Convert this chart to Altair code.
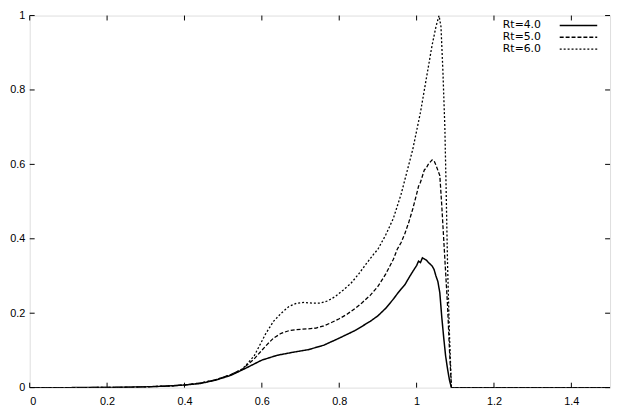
import altair as alt
import pandas as pd

# ---- data ----
series_names = ["Rt=4.0", "Rt=5.0", "Rt=6.0"]

x_rt4 = [0.0, 0.1, 0.2, 0.25, 0.3, 0.35, 0.4, 0.44, 0.48, 0.52, 0.56, 0.6, 0.64, 0.68, 0.72,
         0.76, 0.8, 0.84, 0.88, 0.9, 0.92, 0.94, 0.95, 0.96, 0.97, 0.98, 0.99, 1.0, 1.005,
         1.01, 1.015, 1.02, 1.025, 1.03, 1.04, 1.045, 1.05, 1.055, 1.06, 1.065, 1.07,
         1.075, 1.08, 1.085, 1.09, 1.5]
y_rt4 = [0.0, 0.0, 0.0005, 0.001, 0.002, 0.004, 0.007, 0.011, 0.020, 0.033, 0.053, 0.074,
         0.087, 0.095, 0.102, 0.114, 0.133, 0.153, 0.178, 0.193, 0.213, 0.238, 0.252, 0.265,
         0.277, 0.295, 0.312, 0.328, 0.340, 0.336, 0.349, 0.346, 0.343, 0.337, 0.327, 0.318,
         0.300, 0.285, 0.255, 0.190, 0.135, 0.085, 0.050, 0.020, 0.0, 0.0]

x_rt5 = [0.0, 0.1, 0.2, 0.25, 0.3, 0.35, 0.4, 0.44, 0.48, 0.52, 0.55, 0.58, 0.61, 0.63, 0.65,
         0.67, 0.69, 0.72, 0.74, 0.76, 0.78, 0.8, 0.82, 0.84, 0.86, 0.88, 0.9, 0.92, 0.94,
         0.95, 0.96, 0.97, 0.98, 0.99, 1.0, 1.005, 1.01, 1.02, 1.025, 1.03, 1.04, 1.045,
         1.05, 1.06, 1.065, 1.07, 1.075, 1.08, 1.085, 1.09, 1.5]
y_rt5 = [0.0, 0.0, 0.0005, 0.001, 0.002, 0.004, 0.007, 0.012, 0.021, 0.035, 0.050, 0.077,
         0.112, 0.133, 0.146, 0.153, 0.156, 0.158, 0.160, 0.166, 0.175, 0.185, 0.197, 0.212,
         0.229, 0.248, 0.272, 0.305, 0.345, 0.372, 0.390, 0.415, 0.445, 0.480, 0.520, 0.541,
         0.552, 0.585, 0.590, 0.600, 0.612, 0.610, 0.598, 0.570, 0.490, 0.400, 0.310, 0.220,
         0.100, 0.0, 0.0]

x_rt6 = [0.0, 0.1, 0.2, 0.25, 0.3, 0.35, 0.4, 0.44, 0.48, 0.52, 0.55, 0.58, 0.61, 0.63, 0.65,
         0.67, 0.69, 0.71, 0.73, 0.75, 0.77, 0.79, 0.81, 0.83, 0.85, 0.87, 0.89, 0.9, 0.92,
         0.94, 0.96, 0.97, 0.98, 0.99, 1.0, 1.01, 1.02, 1.03, 1.04, 1.05, 1.058, 1.063,
         1.068, 1.073, 1.076, 1.08, 1.085, 1.09, 1.5]
y_rt6 = [0.0, 0.0, 0.0005, 0.001, 0.002, 0.004, 0.007, 0.012, 0.021, 0.035, 0.050, 0.085,
         0.145, 0.178, 0.200, 0.218, 0.227, 0.229, 0.227, 0.227, 0.233, 0.245, 0.262, 0.280,
         0.305, 0.333, 0.360, 0.372, 0.410, 0.455, 0.520, 0.560, 0.600, 0.640, 0.690, 0.740,
         0.800, 0.860, 0.920, 0.970, 1.0, 0.970, 0.850, 0.700, 0.550, 0.330, 0.140, 0.0, 0.0]

x_ticks = [0, 0.2, 0.4, 0.6, 0.8, 1.0, 1.2, 1.4]
y_ticks = [0, 0.2, 0.4, 0.6, 0.8, 1.0]

W, H = 588, 377
TL = 5  # tick length (px)
FONT = "Liberation Sans"

series_x = [x_rt4, x_rt5, x_rt6]
series_y = [y_rt4, y_rt5, y_rt6]
dashes = [[1, 0], [4, 2], [2, 2]]
widths = [1.5, 1.3, 1.3]

xs = alt.Scale(domain=[0, 1.5], nice=False, zero=False)
ys = alt.Scale(domain=[0, 1], nice=False)

x_axis = alt.Axis(values=x_ticks, format="~g", title=None, grid=False, ticks=False,
                  tickSize=0, domain=False, labelFont=FONT, labelFontSize=11,
                  labelColor="black", labelPadding=8)
y_axis = alt.Axis(values=y_ticks, format="~g", title=None, grid=False, ticks=False,
                  tickSize=0, domain=False, labelFont=FONT, labelFontSize=11,
                  labelColor="black", labelPadding=5)

X = lambda f: alt.X(f, scale=xs, axis=x_axis)
Y = lambda f: alt.Y(f, scale=ys, axis=y_axis)

layers = []
for i, name in enumerate(series_names):
    df = pd.DataFrame({"x": series_x[i], "y": series_y[i]})
    layers.append(alt.Chart(df).mark_line(color="black", strokeWidth=widths[i],
                                          strokeDash=dashes[i], clip=True).encode(
        x=X("x:Q"), y=Y("y:Q")))

# inward ticks on all four sides
xt = pd.DataFrame({"x": x_ticks})
yt = pd.DataFrame({"y": y_ticks})
layers.append(alt.Chart(xt).mark_rule(color="black", strokeWidth=1).encode(
    x=X("x:Q"), y=alt.value(H), y2=alt.value(H - TL)))
layers.append(alt.Chart(xt).mark_rule(color="black", strokeWidth=1).encode(
    x=X("x:Q"), y=alt.value(0), y2=alt.value(TL)))
layers.append(alt.Chart(yt).mark_rule(color="black", strokeWidth=1).encode(
    y=Y("y:Q"), x=alt.value(0), x2=alt.value(TL)))
layers.append(alt.Chart(yt).mark_rule(color="black", strokeWidth=1).encode(
    y=Y("y:Q"), x=alt.value(W), x2=alt.value(W - TL)))

# legend (top right, label left of sample line)
for i, name in enumerate(series_names):
    row = 10 + 12 * i
    ld = pd.DataFrame({"label": [name]})
    layers.append(alt.Chart(ld).mark_text(align="right", baseline="middle", font="DejaVu Sans",
                                          fontSize=11, color="black").encode(
        text="label:N", x=alt.value(W - 70), y=alt.value(row)))
    layers.append(alt.Chart(ld).mark_rule(color="black", strokeWidth=widths[i],
                                          strokeDash=dashes[i]).encode(
        x=alt.value(W - 51), x2=alt.value(W - 13), y=alt.value(row)))

chart = alt.layer(*layers).properties(
    width=W, height=H,
    autosize=alt.AutoSizeParams(type="none"),
    padding={"left": 22, "top": 5, "right": 4, "bottom": 18},
).configure_view(stroke="black", strokeWidth=1).configure(background="white")

chart.save("out.html", embed_options={"renderer": "svg", "actions": False})
